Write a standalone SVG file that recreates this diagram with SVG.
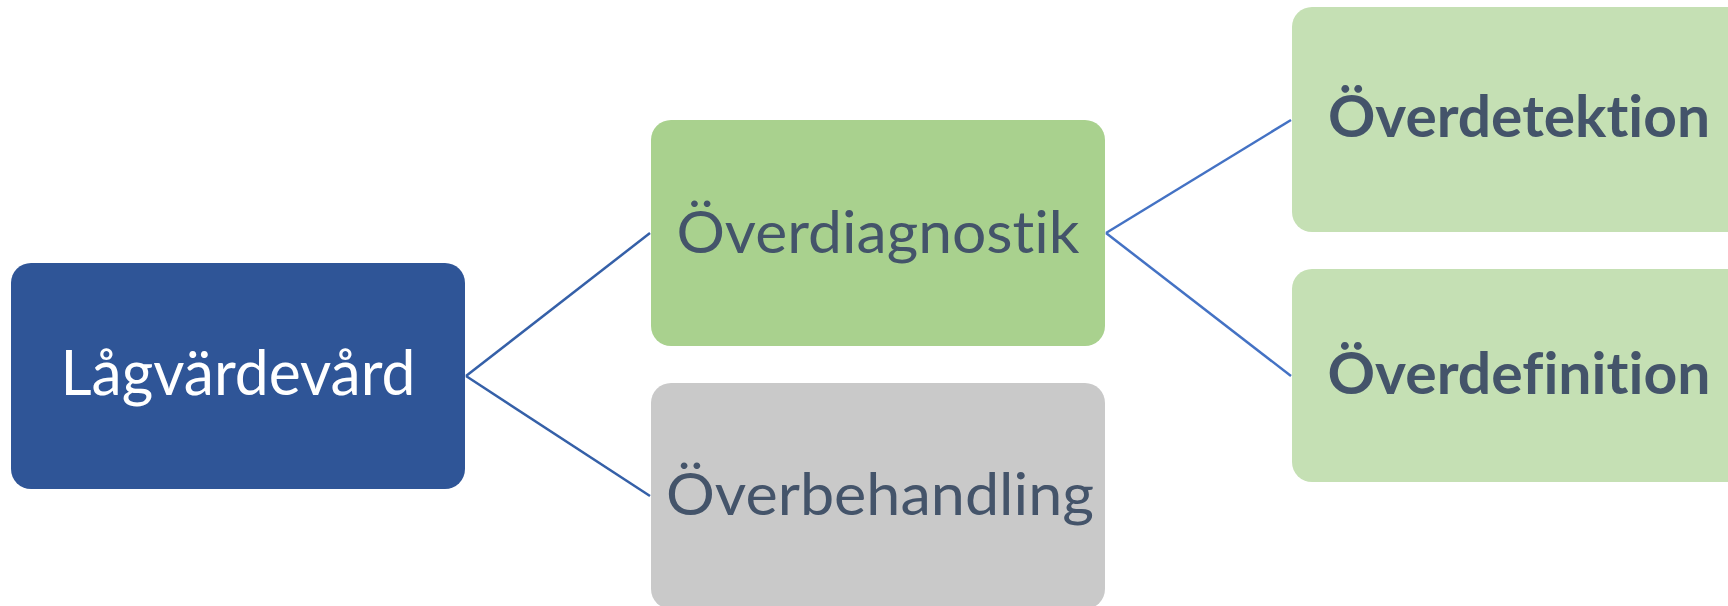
<svg xmlns="http://www.w3.org/2000/svg" width="1728" height="606" viewBox="0 0 1728 606">
  <style>
    .box { stroke: none; }
    .root { fill: #2F5597; }
    .mid { fill: #A9D18E; }
    .grey { fill: #C9C9C9; }
    .leaf { fill: #C5E0B4; }
    .lbl { font-family: "Lato", "Open Sans", "Liberation Sans", sans-serif; text-anchor: middle; fill: #44546A; font-variant-ligatures: none; font-feature-settings: "liga" 0, "dlig" 0; }
    .lbl-root { fill: #FFFFFF; }
    .bold { font-weight: bold; }
    .conn { stroke-width: 2.5; fill: none; }
    .conn-l1 { stroke: #3560A8; }
    .conn-l2 { stroke: #4472C4; }
  </style>

  <rect width="1728" height="606" fill="#FFFFFF"/>

  <!-- connectors -->
  <g id="connectors">
    <line class="conn conn-l1" x1="466" y1="376" x2="650" y2="233"/>
    <line class="conn conn-l1" x1="466" y1="376" x2="650" y2="496"/>
    <line class="conn conn-l2" x1="1106" y1="233" x2="1291" y2="120"/>
    <line class="conn conn-l2" x1="1106" y1="233" x2="1291" y2="376"/>
  </g>

  <g id="node-lagvardevard">
    <rect class="box root" x="11" y="263" width="454" height="226" rx="20" ry="20"/>
    <text class="lbl lbl-root" x="238" y="395" font-size="61" textLength="355" lengthAdjust="spacingAndGlyphs">Lågvärdevård</text>
  </g>

  <g id="node-overdiagnostik">
    <rect class="box mid" x="651" y="120" width="454" height="226" rx="20" ry="20"/>
    <text class="lbl" x="878" y="253" font-size="58" textLength="403" lengthAdjust="spacingAndGlyphs">Överdiagnostik</text>
  </g>

  <g id="node-overbehandling">
    <rect class="box grey" x="651" y="383" width="454" height="226" rx="20" ry="20"/>
    <text class="lbl" x="880" y="515" font-size="58" textLength="428" lengthAdjust="spacingAndGlyphs">Överbehandling</text>
  </g>

  <g id="node-overdetektion">
    <rect class="box leaf" x="1292" y="7" width="454" height="225" rx="20" ry="20"/>
    <text class="lbl bold" x="1519" y="137" font-size="57" textLength="382" lengthAdjust="spacingAndGlyphs">Överdetektion</text>
  </g>

  <g id="node-overdefinition">
    <rect class="box leaf" x="1292" y="269" width="454" height="213" rx="20" ry="20"/>
    <text class="lbl bold" x="1519" y="394" font-size="57" textLength="383" lengthAdjust="spacingAndGlyphs">Överdefinition</text>
  </g>
</svg>
